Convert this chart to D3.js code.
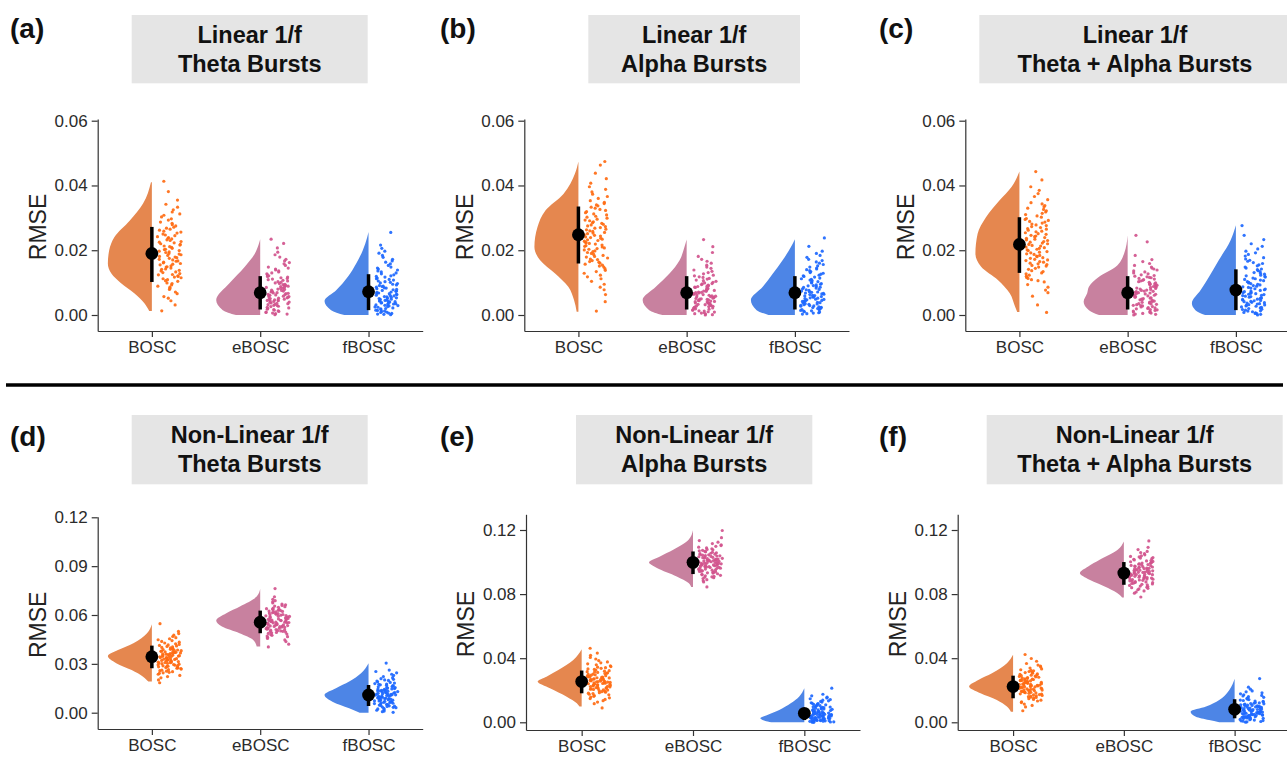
<!DOCTYPE html>
<html>
<head>
<meta charset="utf-8">
<script src="https://cdn.jsdelivr.net/npm/d3@7"></script>
<style>
  body { margin: 0; background: #fff; }
  svg { display: block; }
</style>
</head>
<body>
<svg id="chart" width="1287" height="757"></svg>
<script>
// all RMSE values below are in units of 1e-4
const methods = ["BOSC", "eBOSC", "fBOSC"];
const panelTags = ["(a)", "(b)", "(c)", "(d)", "(e)", "(f)"];
const panelTitles = [
    ["Linear 1/f", "Theta Bursts"],
    ["Linear 1/f", "Alpha Bursts"],
    ["Linear 1/f", "Theta + Alpha Bursts"],
    ["Non-Linear 1/f", "Theta Bursts"],
    ["Non-Linear 1/f", "Alpha Bursts"],
    ["Non-Linear 1/f", "Theta + Alpha Bursts"]
];
const yTicks = [
    [0, 200, 400, 600], [0, 200, 400, 600], [0, 200, 400, 600],
    [0, 300, 600, 900, 1200], [0, 400, 800, 1200], [0, 400, 800, 1200]
];

// mean and +/- 1 sd per panel, order BOSC, eBOSC, fBOSC
const meanRmse = [[190, 69, 72], [248, 69, 69], [218, 69, 77], [344, 556, 109], [254, 998, 56], [223, 931, 81]];
const lowRmse  = [[102, 17, 15], [159, 17, 17], [130, 17, 15], [273, 488, 41], [181, 925, 14], [150, 858, 25]];
const highRmse = [[272, 120, 126], [335, 120, 120], [302, 120, 141], [412, 627, 170], [323, 1066, 87], [291, 1000, 144]];

// half-violin outlines: [rmse, relative width]
const violinA = [
    [[12, 0.06], [36, 0.17], [67, 0.4], [98, 0.7], [128, 0.92], [159, 1.0], [200, 0.97], [241, 0.85], [292, 0.5], [344, 0.2], [410, 0.02]],
    [[0, 0.55], [15, 0.85], [46, 1.0], [98, 0.7], [149, 0.35], [190, 0.12], [220, 0.03], [234, 0]],
    [[0, 0.55], [15, 0.85], [43, 1.0], [77, 0.73], [118, 0.47], [159, 0.28], [200, 0.13], [240, 0.03], [256, 0]]
];
const violinB = [
    [[10, 0.04], [46, 0.1], [87, 0.23], [128, 0.53], [169, 0.87], [210, 1.0], [272, 0.93], [323, 0.75], [374, 0.34], [436, 0.08], [474, 0]],
    [[0, 0.55], [15, 0.85], [46, 1.0], [87, 0.7], [128, 0.39], [169, 0.16], [210, 0.05], [233, 0]],
    [[0, 0.6], [15, 0.87], [46, 1.0], [87, 0.73], [128, 0.5], [169, 0.28], [210, 0.09], [234, 0]]
];
const violinC = [
    [[9, 0.05], [26, 0.1], [67, 0.22], [108, 0.49], [149, 0.87], [190, 1.0], [251, 0.95], [302, 0.76], [354, 0.45], [395, 0.18], [443, 0]],
    [[0, 0.65], [15, 0.88], [41, 1.0], [67, 0.92], [87, 0.88], [118, 0.65], [149, 0.27], [190, 0.08], [246, 0]],
    [[0, 0.7], [15, 0.92], [36, 1.0], [77, 0.8], [118, 0.61], [169, 0.39], [231, 0.12], [277, 0]]
];
const violinD = [
    [[191, 0.08], [221, 0.2], [262, 0.46], [304, 0.81], [348, 1.0], [385, 0.77], [427, 0.42], [488, 0.11], [543, 0]],
    [[406, 0.08], [447, 0.16], [488, 0.47], [529, 0.87], [566, 1.0], [611, 0.77], [652, 0.46], [713, 0.08], [759, 0]],
    [[0, 0.2], [27, 0.44], [68, 0.82], [109, 1.0], [150, 0.74], [191, 0.44], [242, 0.17], [304, 0]]
];
const violinE = [
    [[98, 0.05], [119, 0.11], [160, 0.34], [212, 0.72], [254, 1.0], [285, 0.8], [327, 0.53], [389, 0.19], [456, 0]],
    [[844, 0.04], [869, 0.1], [910, 0.37], [963, 0.82], [998, 1.0], [1035, 0.75], [1077, 0.45], [1139, 0.1], [1198, 0]],
    [[0, 0.75], [10, 0.9], [25, 1.0], [46, 0.84], [77, 0.57], [119, 0.31], [160, 0.12], [212, 0]]
];
const violinF = [
    [[66, 0.05], [98, 0.14], [139, 0.37], [181, 0.74], [223, 1.0], [264, 0.79], [306, 0.48], [369, 0.14], [421, 0]],
    [[779, 0.04], [796, 0.1], [838, 0.36], [889, 0.78], [931, 1.0], [973, 0.81], [1014, 0.55], [1077, 0.14], [1129, 0]],
    [[0, 0.35], [14, 0.58], [35, 0.88], [66, 1.0], [98, 0.65], [139, 0.35], [202, 0.12], [271, 0]]
];

// single runs (rain)
const dotsA = [
    [13,31,44,52,57,66,71,79,82,86,89,93,97,99,104,106,109,112,115,117,119,121,124,125,128,131,133,136,138,141,142,145,148,149,152,155,157,159,161,163,166,167,170,172,175,177,179,181,184,186,188,190,193,195,197,199,202,203,206,209,211,213,216,218,220,223,225,227,230,232,235,237,239,242,245,247,250,253,256,259,262,265,268,271,275,279,283,287,293,297,303,308,312,318,325,333,342,355,381,413],
    [1,3,4,6,8,9,11,13,15,17,18,20,22,24,26,27,29,30,32,33,35,36,37,39,40,42,43,44,45,46,47,48,49,51,52,53,55,56,57,58,60,61,62,63,64,66,67,68,69,71,72,73,74,76,77,79,80,82,83,85,86,88,89,91,92,94,95,97,99,101,103,105,107,109,111,113,115,117,119,121,124,127,130,133,136,139,142,145,148,153,158,162,167,172,179,186,194,207,221,234],
    [1,2,3,5,6,8,9,11,12,14,15,17,19,20,22,24,25,26,28,29,30,31,32,34,35,36,37,38,40,41,42,43,44,45,46,48,49,51,52,53,55,56,57,59,60,61,63,64,66,67,68,70,71,73,74,76,78,79,81,83,84,86,88,89,91,93,95,97,99,101,103,105,108,110,112,114,117,119,121,124,127,130,133,136,139,142,145,148,153,158,163,167,172,178,184,191,197,206,216,255]
];
const dotsB = [
    [12,41,63,78,86,95,104,112,118,123,129,134,138,143,148,151,154,157,160,163,165,168,171,173,176,179,181,184,187,190,193,196,198,201,203,205,207,210,212,214,216,219,221,223,225,228,230,232,234,237,239,241,244,246,248,251,253,255,258,260,263,265,268,270,273,275,278,280,283,285,288,291,293,296,299,302,305,309,312,316,319,323,326,330,333,337,340,344,348,353,360,366,373,380,388,396,407,421,438,463,474],
    [0,1,3,4,6,7,9,10,12,13,15,16,18,19,21,22,24,25,26,27,28,29,30,32,33,34,35,36,37,38,40,41,42,43,44,45,47,48,49,50,51,52,54,55,56,57,58,59,61,62,63,64,65,66,68,69,70,71,73,74,76,77,79,80,82,83,85,86,88,89,91,92,94,96,97,99,101,104,106,108,111,113,116,118,121,123,127,131,135,139,144,148,154,160,166,172,181,193,211,233],
    [3,4,6,7,9,10,12,13,14,16,17,19,20,22,23,24,25,27,28,29,30,32,33,34,35,37,38,39,40,42,43,44,45,47,48,49,51,52,53,55,56,57,59,60,61,63,64,65,67,68,70,71,72,74,76,78,79,81,83,85,86,88,90,91,93,95,97,99,101,103,106,108,110,112,114,117,119,121,123,126,129,131,134,137,140,142,145,148,152,156,160,164,168,172,178,184,190,197,212,238]
];
const dotsC = [
    [8,31,58,69,77,86,94,102,106,109,113,116,120,123,127,130,134,137,141,144,148,151,153,156,158,160,163,165,168,170,172,175,177,180,182,184,187,189,192,194,196,199,201,203,206,208,210,213,215,218,220,222,225,227,230,232,234,237,239,242,244,246,249,251,254,257,259,262,265,267,270,273,276,278,281,284,287,289,292,295,298,302,306,310,314,318,322,326,330,334,338,343,347,356,366,375,385,396,417,443],
    [0,2,3,5,6,8,9,11,12,14,16,17,19,20,22,23,25,26,28,29,30,32,33,34,35,37,38,39,40,42,43,44,45,47,48,49,51,52,53,55,56,57,59,60,61,62,64,65,66,68,69,70,72,73,74,76,77,79,80,82,83,85,86,88,89,91,92,94,95,96,98,99,101,103,105,107,109,111,113,115,116,118,120,122,124,127,130,133,136,139,142,145,148,153,159,165,171,184,226,246],
    [0,2,4,5,7,8,10,12,13,15,17,18,20,22,24,25,27,28,30,31,32,34,35,37,38,39,41,42,44,45,46,48,49,51,52,54,55,57,58,60,61,63,64,66,67,69,70,72,74,76,78,80,81,83,85,87,89,91,93,95,97,99,101,103,106,108,110,112,114,117,119,121,123,126,129,131,134,137,140,142,145,148,152,155,159,162,166,169,173,177,182,187,192,197,204,212,220,233,246,276]
];
const dotsD = [
    [184,201,214,222,229,236,242,245,248,252,255,258,261,264,268,271,273,275,277,280,282,284,286,288,290,292,294,296,298,301,303,305,307,308,310,312,314,316,318,320,321,323,325,327,329,331,332,334,336,338,339,341,343,345,346,348,350,352,353,355,357,359,361,363,365,367,369,371,373,375,377,379,381,383,385,387,389,392,395,398,401,404,407,410,413,416,419,423,428,433,438,443,448,454,461,468,476,486,499,547],
    [404,421,437,447,456,463,467,471,475,479,483,487,491,493,495,498,500,502,504,507,509,511,513,516,518,521,523,524,526,528,530,532,533,535,537,539,541,542,544,546,547,549,551,552,554,556,557,559,561,562,564,566,567,569,571,572,574,576,577,579,581,583,585,587,589,591,593,595,597,599,601,603,605,607,609,612,614,617,619,622,624,627,629,632,634,637,639,643,647,651,655,659,663,667,674,681,688,696,712,762],
    [2,6,10,15,19,23,27,31,33,35,38,40,42,44,47,49,51,53,56,58,61,63,64,66,68,70,72,73,75,77,79,80,82,84,86,87,89,91,92,94,95,97,98,100,102,103,105,106,108,110,111,113,114,116,117,119,121,123,124,126,128,130,132,134,135,137,139,141,143,145,146,148,151,154,156,159,161,164,166,169,171,174,176,179,182,186,190,194,198,201,205,209,215,222,229,236,245,253,262,305]
];
const dotsE = [
    [90,116,126,135,143,148,153,158,162,167,172,175,179,182,185,188,191,194,198,201,203,205,207,209,211,213,215,217,219,221,223,225,227,229,231,232,234,236,237,239,241,242,244,246,247,249,251,252,254,256,257,259,261,263,264,266,268,270,271,273,275,277,278,280,282,284,285,287,289,291,294,296,299,301,304,306,309,311,314,316,319,322,326,330,333,337,341,344,348,353,359,365,371,377,385,395,405,418,432,462],
    [845,876,883,890,897,902,905,908,911,914,917,920,924,927,931,933,935,937,939,941,943,945,947,949,951,953,956,958,961,962,964,966,967,969,971,972,974,976,977,979,981,982,984,986,987,989,991,992,994,996,997,999,1001,1002,1004,1006,1007,1009,1011,1012,1014,1016,1017,1019,1021,1023,1025,1027,1029,1031,1033,1035,1037,1039,1041,1043,1045,1047,1049,1052,1055,1058,1061,1064,1067,1070,1073,1076,1079,1083,1088,1093,1098,1103,1108,1115,1124,1134,1152,1197],
    [0,1,2,3,4,5,6,7,8,9,10,11,12,13,14,15,16,17,19,20,21,22,23,24,25,26,27,28,29,30,31,32,33,34,35,36,37,38,39,40,41,42,43,45,46,47,48,49,50,51,53,54,55,56,57,58,59,61,62,64,65,67,68,70,71,73,74,76,77,79,81,83,85,87,89,91,93,95,97,99,102,104,107,109,112,114,117,119,122,126,130,134,138,142,147,152,157,165,175,213]
];
const dotsF = [
    [72,96,105,114,123,128,133,138,143,147,152,155,157,160,163,165,168,171,173,176,178,181,183,185,187,189,190,192,194,196,198,200,201,203,205,207,209,211,212,214,216,217,219,221,222,224,226,227,229,231,232,234,236,237,239,241,243,245,247,248,250,252,254,256,258,260,261,263,265,267,269,271,274,276,279,281,284,286,289,291,294,296,299,302,306,310,313,317,321,324,328,333,339,345,351,357,367,381,398,423],
    [782,806,813,820,827,832,836,840,843,847,850,854,858,861,863,866,868,871,873,876,878,881,883,886,888,891,893,894,896,898,900,902,903,905,907,909,911,913,914,916,918,921,922,924,926,928,929,931,933,935,936,938,940,942,943,945,947,949,951,953,955,957,959,961,963,965,967,969,971,973,975,977,979,982,984,987,989,992,994,997,999,1002,1004,1007,1009,1013,1017,1021,1025,1028,1032,1035,1039,1045,1052,1059,1066,1078,1092,1132],
    [1,3,5,7,9,11,14,16,18,21,23,25,27,28,29,31,32,34,35,36,38,39,41,42,43,45,46,48,49,50,51,52,54,55,56,57,58,60,61,62,63,64,66,67,68,69,70,72,73,74,76,77,79,80,82,83,85,86,88,89,91,92,94,95,96,98,99,101,103,105,107,109,111,113,115,117,119,121,123,127,130,133,136,139,142,145,148,152,156,160,164,168,172,178,184,190,196,207,219,273]
];

const violins = [violinA, violinB, violinC, violinD, violinE, violinF];
const dots = [dotsA, dotsB, dotsC, dotsD, dotsE, dotsF];

// page layout of the six panels (pixels)
const layout = [
    {ax: 97.7, xEnd: 422.7, base: 331, top: 119, zero: 315, topTick: 120.7, tag: [10, 38], box: [131.7, 367.7, 15, 83.3], tx: 249.7, tb: [43, 71.7]},
    {ax: 524.3, xEnd: 849, base: 331, top: 119, zero: 315, topTick: 120.7, tag: [440, 38], box: [588.3, 800, 15, 83.3], tx: 694.2, tb: [43, 71.7]},
    {ax: 965.3, xEnd: 1290, base: 331, top: 119, zero: 315, topTick: 120.7, tag: [879, 38], box: [979.3, 1291, 15, 83.3], tx: 1135, tb: [43, 71.7]},
    {ax: 97.7, xEnd: 422.7, base: 729, top: 516.7, zero: 712.7, topTick: 517.3, tag: [10, 446], box: [131.7, 367.7, 415, 484.3], tx: 249.7, tb: [443.3, 471.7]},
    {ax: 526, xEnd: 860, base: 730, top: 514.3, zero: 722.3, topTick: 530, tag: [440, 446], box: [576, 812.3, 415, 484.3], tx: 694.2, tb: [443.3, 471.7]},
    {ax: 957.7, xEnd: 1290, base: 730, top: 514.3, zero: 722.3, topTick: 530, tag: [879, 446], box: [986.7, 1282.7, 415, 484.3], tx: 1134.7, tb: [443.3, 471.7]}
];

const FONT = "'Liberation Sans', Arial, Helvetica, sans-serif";
const violinFill = ["#E5874F", "#C8819F", "#4D85E6"];
const dotFill = ["#FF6B12", "#D1548D", "#1D68FF"];
const violinW = 44;

// deterministic horizontal jitter for the rain
function jitter(i) {
    const s = Math.sin(i * 12.9898 + 78.233) * 43758.5453;
    return s - Math.floor(s);
}

const svg = d3.select("#chart").attr("font-family", FONT);

layout.forEach((L, p) => {
    const g = svg.append("g");

    const yBase = d3.scaleLinear().domain([0, yTicks[p][yTicks[p].length - 1]]).range([L.zero, L.topTick]);
    const y = d3.scaleLinear().domain([yBase.invert(L.base), yBase.invert(L.top)]).range([L.base, L.top]);
    const x = d3.scalePoint().domain(methods).range([L.ax, L.xEnd]).padding(0.5);

    // strip title
    g.append("rect")
        .attr("x", L.box[0]).attr("y", L.box[2])
        .attr("width", L.box[1] - L.box[0]).attr("height", L.box[3] - L.box[2])
        .attr("fill", "#e5e5e5");
    panelTitles[p].forEach((t, j) => {
        g.append("text")
            .attr("x", L.tx).attr("y", L.tb[j])
            .attr("text-anchor", "middle")
            .attr("font-size", 23.5).attr("font-weight", "bold")
            .attr("fill", "#111")
            .text(t);
    });

    g.append("text")
        .attr("x", L.tag[0]).attr("y", L.tag[1])
        .attr("font-size", 28).attr("font-weight", "bold")
        .attr("fill", "#111")
        .text(panelTags[p]);

    methods.forEach((m, k) => {
        const cx = x(m);
        const prof = violins[p][k].slice().sort((a, b) => b[0] - a[0]);
        const area = d3.area()
            .curve(d3.curveMonotoneY)
            .y(d => y(d[0]))
            .x0(cx)
            .x1(d => cx - d[1] * violinW);
        g.append("path").datum(prof).attr("d", area).attr("fill", violinFill[k]);

        g.append("g").selectAll("circle")
            .data(dots[p][k])
            .join("circle")
            .attr("cx", (d, i) => cx + 5.5 + 24 * jitter(i + k * 131 + p * 977))
            .attr("cy", d => y(d))
            .attr("r", 1.6)
            .attr("fill", dotFill[k])
            .attr("opacity", 0.92);

        g.append("line")
            .attr("x1", cx).attr("x2", cx)
            .attr("y1", y(lowRmse[p][k])).attr("y2", y(highRmse[p][k]))
            .attr("stroke", "#000").attr("stroke-width", 3.5);
        g.append("circle")
            .attr("cx", cx).attr("cy", y(meanRmse[p][k]))
            .attr("r", 6.4).attr("fill", "#000");
    });

    // axes
    const yAxis = g.append("g")
        .attr("transform", `translate(${L.ax},0)`)
        .call(d3.axisLeft(y).tickValues(yTicks[p]).tickFormat(d => (d / 1e4).toFixed(2)).tickSize(6).tickSizeOuter(0).tickPadding(4));
    const xAxis = g.append("g")
        .attr("transform", `translate(0,${L.base})`)
        .call(d3.axisBottom(x).tickSize(6).tickSizeOuter(0).tickPadding(4.2));
    [yAxis, xAxis].forEach(a => {
        a.attr("font-family", FONT).attr("font-size", 17);
        a.selectAll("text").attr("fill", "#2b2b2b");
        a.selectAll("line").attr("stroke", "#333").attr("stroke-width", 1.2);
        a.select(".domain").attr("stroke", "#333").attr("stroke-width", 1.2);
    });

    g.append("text")
        .attr("transform", `translate(${L.ax - 60},${(L.top + L.base) / 2 + 2}) rotate(-90)`)
        .attr("text-anchor", "middle")
        .attr("dy", "0.36em")
        .attr("font-size", 23)
        .attr("fill", "#222")
        .text("RMSE");
});

// divider between the two rows
svg.append("line")
    .attr("x1", 6).attr("x2", 1283)
    .attr("y1", 385).attr("y2", 385)
    .attr("stroke", "#000").attr("stroke-width", 3.5);
</script>
</body>
</html>
